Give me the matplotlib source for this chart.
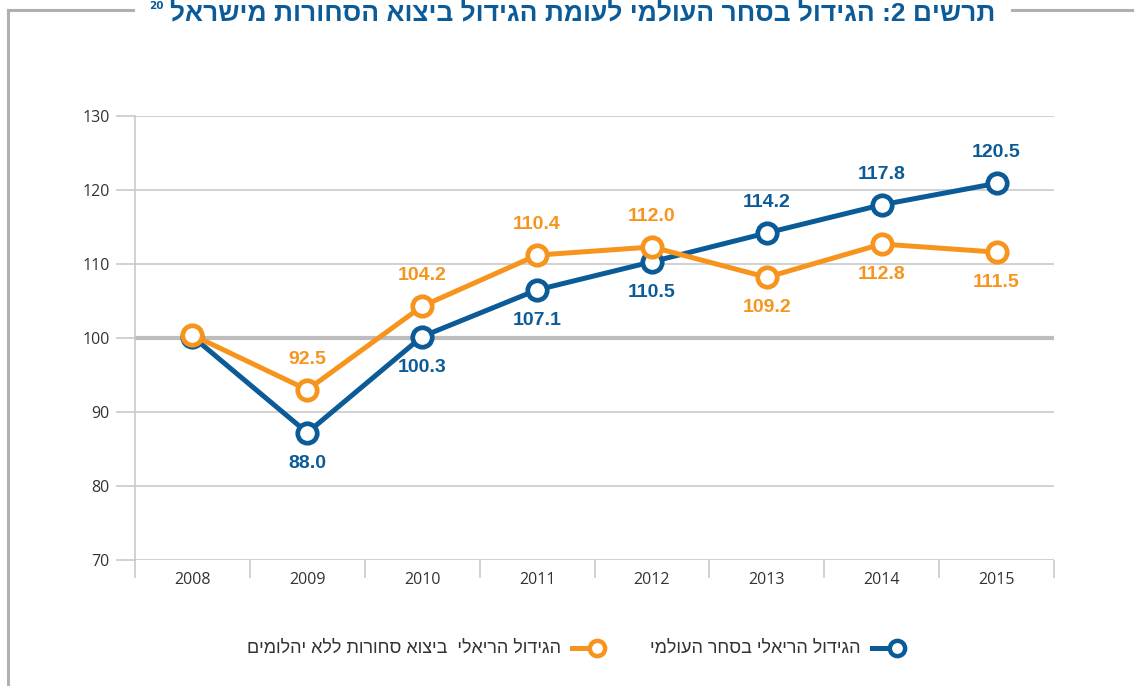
import matplotlib
matplotlib.use("Agg")
import matplotlib.pyplot as plt
from matplotlib.lines import Line2D
import numpy as np

years = ["2008", "2009", "2010", "2011", "2012", "2013", "2014", "2015"]
world_trade = [100.2, 87.2, 100.2, 106.5, 110.3, 114.2, 118.0, 120.9]
world_labels = ["", "88.0", "100.3", "107.1", "110.5", "114.2", "117.8", "120.5"]
world_pos = ["", "below", "below", "below", "below", "above", "above", "above"]
exports = [100.4, 93.0, 104.3, 111.2, 112.3, 108.2, 112.7, 111.6]
export_labels = ["", "92.5", "104.2", "110.4", "112.0", "109.2", "112.8", "111.5"]
export_pos = ["", "above", "above", "above", "above", "below", "below", "below"]
yticks = [70, 80, 90, 100, 110, 120, 130]

# Hebrew texts (logical order) - reversed for visual display
title_words = ["תרשים", ":2", "הגידול", "בסחר", "העולמי", "לעומת", "הגידול", "ביצוא", "הסחורות", "מישראל"]
legend_world = "הגידול הריאלי בסחר העולמי"
legend_exports = "הגידול הריאלי  ביצוא סחורות ללא יהלומים"


def vis(s):
    return s[::-1]


def vis_words(words):
    out = []
    for w in reversed(words):
        if any("\u0590" <= c <= "\u05ff" for c in w):
            out.append(w[::-1])
        else:
            out.append(w)
    return " ".join(out)


BLUE = "#0b5b98"
ORANGE = "#f7941d"
GRID = "#c9c9c9"
TXT = "#333333"
HEB = ["Liberation Sans", "DejaVu Sans"]

fig = plt.figure(figsize=(11.34, 6.86), dpi=100)
W, H = 1134, 686
ax = fig.add_axes([135 / W, 1 - 560 / H, (1054 - 135) / W, (560 - 116) / H])

x = np.arange(len(years))
ax.set_xlim(-0.5, len(years) - 0.5)
ax.set_ylim(70, 130)

for y in yticks:
    if y == 100:
        ax.axhline(y, color="#bdbdbd", lw=3.0, zorder=1)
    else:
        ax.axhline(y, color=GRID, lw=1.2, zorder=1)

ax.set_yticks(yticks)
ax.set_yticklabels([str(v) for v in yticks], fontsize=11.5, color=TXT, family="Open Sans")
ax.tick_params(axis="y", length=14, width=1.2, color=GRID, pad=4)
ax.set_xticks(x)
ax.set_xticklabels(years, fontsize=11.5, color=TXT, family="Open Sans")
ax.set_xticks(np.arange(-0.5, len(years), 1.0), minor=True)
ax.tick_params(axis="x", which="major", length=0, pad=9)
ax.tick_params(axis="x", which="minor", length=13, width=1.2, color=GRID)

for s in ["top", "right"]:
    ax.spines[s].set_visible(False)
ax.spines["bottom"].set_visible(False)
ax.spines["left"].set_color(GRID)
ax.spines["left"].set_linewidth(1.2)

mk = dict(marker="o", markersize=14, markerfacecolor="white", markeredgewidth=3.4)
ax.plot(x, world_trade, color=BLUE, lw=3.6, zorder=3, markeredgecolor=BLUE, **mk)
ax.plot(x, exports, color=ORANGE, lw=3.6, zorder=4, markeredgecolor=ORANGE, **mk)

lblfont = dict(fontsize=14, fontweight="bold", family=["Liberation Sans", "DejaVu Sans"],
               ha="center", va="center")
off = 22
for xi, v, t, p in zip(x, world_trade, world_labels, world_pos):
    if t:
        dy = off if p == "above" else -off
        ax.annotate(t, (xi, v), xytext=(0, dy), textcoords="offset points",
                    color=BLUE, zorder=6, **lblfont)
for xi, v, t, p in zip(x, exports, export_labels, export_pos):
    if t:
        dy = off if p == "above" else -off
        ax.annotate(t, (xi, v), xytext=(0, dy), textcoords="offset points",
                    color=ORANGE, zorder=6, **lblfont)

# frame lines
fig.add_artist(Line2D([8 / W, 8 / W], [0, 1 - 10 / H], color="#b0b0b0", lw=2.2))
fig.add_artist(Line2D([8 / W, 133 / W], [1 - 10 / H, 1 - 10 / H], color="#b0b0b0", lw=2.2))
fig.add_artist(Line2D([1012 / W, 1 + 0.01], [1 - 10 / H, 1 - 10 / H], color="#b0b0b0", lw=2.2))

# title (top partly cut off in the reference)
title = fig.text(995 / W, 1 - 20 / H, vis_words(title_words), ha="right", va="baseline",
                 fontsize=24, fontweight="bold", color=BLUE, family=HEB)
renderer = fig.canvas.get_renderer()
tw = title.get_window_extent(renderer).width
title.set_fontsize(24 * 825.0 / tw)
fig.text(149 / W, 1 - 9 / H, "20", ha="left", va="baseline", fontsize=7.5,
         fontweight="bold", color=BLUE, family="DejaVu Sans")

# legend
ly = 1 - 648 / H
fig.add_artist(Line2D([872 / W, 890 / W], [ly, ly], color=BLUE, lw=3.6))
fig.add_artist(Line2D([897 / W], [ly], color=BLUE, marker="o", markersize=11,
                      markerfacecolor="white", markeredgewidth=3.2, markeredgecolor=BLUE))
fig.text(861 / W, ly, vis(legend_world), ha="right", va="center", fontsize=13,
         color=TXT, family=HEB)
fig.add_artist(Line2D([572 / W, 590 / W], [ly, ly], color=ORANGE, lw=3.6))
fig.add_artist(Line2D([597 / W], [ly], color=ORANGE, marker="o", markersize=11,
                      markerfacecolor="white", markeredgewidth=3.2, markeredgecolor=ORANGE))
fig.text(561 / W, ly, vis(legend_exports), ha="right", va="center", fontsize=13,
         color=TXT, family=HEB)

fig.savefig("out.png", dpi=100)
